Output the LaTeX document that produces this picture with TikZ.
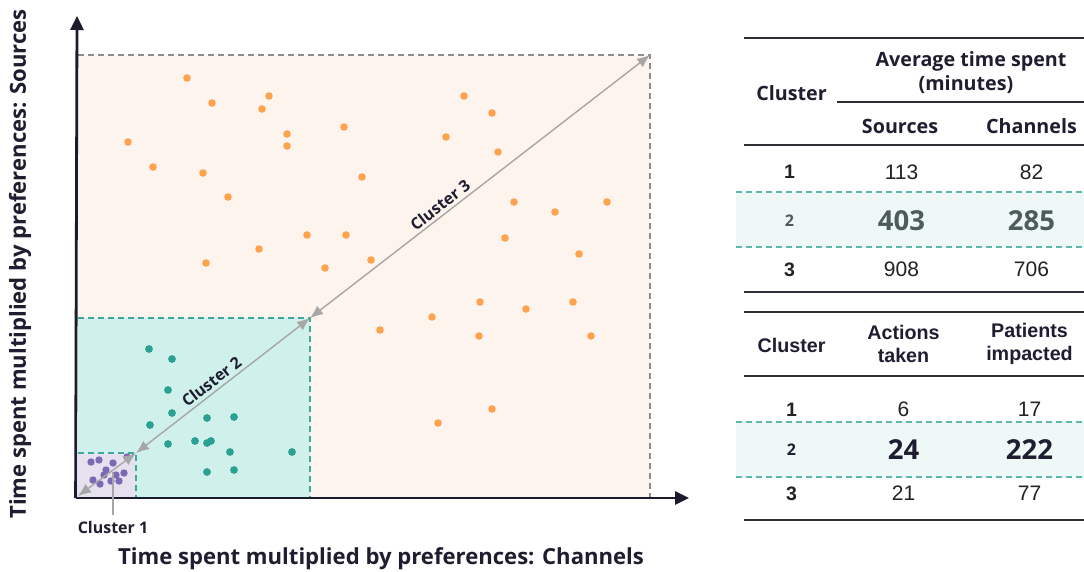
\documentclass[tikz,border=0pt]{standalone}
\usepackage{fontspec}
\setmainfont{Open Sans}
\newfontfamily\arial{Liberation Sans}
\usetikzlibrary{arrows.meta}
\definecolor{cthreefill}{HTML}{FEF4EE}
\definecolor{ctwofill}{HTML}{D0F0EC}
\definecolor{conefill}{HTML}{E5E1EF}
\definecolor{orangedot}{HTML}{FFA24E}
\definecolor{tealdot}{HTML}{2BA194}
\definecolor{purpledot}{HTML}{7D68B5}
\definecolor{tealline}{HTML}{3DA99C}
\definecolor{greyline}{HTML}{8C8C8C}
\definecolor{arrowgrey}{HTML}{A6A6A6}
\definecolor{axisdark}{HTML}{1C1B2E}
\definecolor{textdark}{HTML}{1E1E30}
\definecolor{bandfill}{HTML}{EEF8F6}
\definecolor{bandline}{HTML}{5BB8AD}
\definecolor{rulecol}{HTML}{2E2E36}
\definecolor{greytext}{HTML}{4F5A5A}
\definecolor{valtext}{HTML}{222222}
\tikzset{
  odot/.style={fill=orangedot},
  tdot/.style={fill=tealdot},
  pdot/.style={fill=purpledot},
  c3border/.style={draw=greyline, line width=1.3pt, dash pattern=on 6pt off 4pt},
  c2border/.style={draw=tealline, line width=1.3pt, dash pattern=on 6pt off 4pt},
  axisline/.style={draw=axisdark, line width=2.8pt, -{Triangle[length=14pt,width=13pt]}},
  garrow/.style={draw=arrowgrey, line width=1.4pt, {Latex[length=13pt,width=10.5pt]}-{Latex[length=13pt,width=10.5pt]}},
  gline/.style={draw=arrowgrey, line width=1.4pt},
  clbl/.style={font=\bfseries\fontsize{16}{19}\selectfont, text=textdark, inner sep=0pt},
  axlbl/.style={font=\bfseries\fontsize{22.1}{26}\selectfont, text=textdark, inner sep=0pt},
  hdr/.style={font=\bfseries\fontsize{19.7}{23}\selectfont, text=textdark, inner sep=0pt, align=center},
  ahdr/.style={font=\arial\bfseries\fontsize{19.7}{23}\selectfont, text=textdark, inner sep=0pt, align=center},
  rnum/.style={font=\arial\bfseries\fontsize{19.5}{22}\selectfont, text=valtext, inner sep=0pt},
  rtwo/.style={font=\bfseries\fontsize{16}{19}\selectfont, inner sep=0pt},
  val/.style={font=\arial\fontsize{21}{24}\selectfont, text=valtext, inner sep=0pt},
  bigval/.style={font=\bfseries\fontsize{27.5}{32}\selectfont, inner sep=0pt},
  trule/.style={draw=rulecol, line width=1.8pt},
  band/.style={fill=bandfill},
  bandedge/.style={draw=bandline, line width=1.3pt, dash pattern=on 6pt off 4pt}
}
\begin{document}
\begin{tikzpicture}[x=1pt,y=-1pt]
\useasboundingbox[fill=white] (0,0) rectangle (1084,571);
% ---- regions ----
\fill[cthreefill] (78,55) rectangle (650,498);
\draw[c3border] (78,55) -- (650,55) -- (650,498);
\fill[ctwofill] (78,318) rectangle (310,498);
\draw[c2border] (78,318) -- (310,318) -- (310,498);
\fill[conefill] (78,453) rectangle (136,498);
\draw[c2border] (78,453) -- (136,453) -- (136,498);
% ---- dots ----
\foreach \x/\y in {187/78,212/103,269/96,262/109,287/134,287/146,344/127,128/142,153/167,203/173,228/197,362/177,307/235,346/235,259/249,206/263,325/268,371/260,464/96,492/113,446/137,498/152,514/202,555/212,607/202,505/238,579/254,480/302,526/309,573/302,432/317,380/330,479/336,591/336,438/423,492/409}
  \fill[odot] (\x,\y) circle (3.8pt);
\foreach \x/\y in {149/349,172/359,168/390,172/413,150/425,207/418,234/417,168/444,195/441,207/443,211/441,230/452,292/452,207/472,234/470}
  \fill[tdot] (\x,\y) circle (3.9pt);
\foreach \x/\y in {91/462,99/460,113/463,127/457,106/470,104/475,116/475,124/473,93/480,100/484,111/481,119/481}
  \fill[pdot] (\x,\y) circle (3.7pt);
% ---- axes ----
\coordinate (O) at (77,498);
\coordinate (ytip) at (77,16);
\coordinate (xtip) at (689,498);
\draw[axisline] (75.6,498) -- (ytip);
\draw[axisline] (75.6,498) -- (xtip);
% ---- cluster arrows ----
\coordinate (c0) at (78,496);
\coordinate (c1) at (136,453);
\coordinate (c2) at (310,318);
\coordinate (c3) at (650,55);
\draw[garrow] (c0) -- (c1);
\draw[garrow] (c1) -- node[clbl, sloped, above=3.5pt, pos=0.47] (l2) {Cluster 2} (c2);
\draw[garrow] (c2) -- node[clbl, sloped, above=3pt, pos=0.40] (l3) {Cluster 3} (c3);
\coordinate (p1) at (113,472);
\node[clbl] (l1) at (113,527) {Cluster 1};
\draw[gline] (p1) -- (l1.north |- 0,515);
% ---- axis labels ----
\node[axlbl] (xlab) at (381,559) {Time spent multiplied by preferences: Channels};
\node[axlbl, rotate=90] (ylab) at (20,264) {Time spent multiplied by preferences: Sources};
% ---- table 1 ----
\fill[band] (736,192) rectangle (1084,247);
\draw[bandedge] (736,192) -- (1084,192);
\draw[bandedge] (736,247) -- (1084,247);
\draw[trule] (744,38) -- (1084,38);
\node[hdr] (t1cl) at (791.5,93) {Cluster};
\node[hdr] (t1avg) at (971,61) {Average time spent};
\node[hdr] (t1min) at (966,85) {(minutes)};
\draw[trule] (837,102) -- (1084,102);
\node[hdr] (t1src) at (900,126) {Sources};
\node[hdr] (t1ch) at (1031.5,126) {Channels};
\draw[trule] (744,145) -- (1084,145);
\node[rnum] (t1r1) at (789.5,172) {1};
\node[val] (t1a1) at (901.5,172) {113};
\node[val] (t1b1) at (1031.5,172) {82};
\node[rtwo, text=greytext] (t1r2) at (789.5,221) {2};
\node[bigval, text=greytext] (t1a2) at (901.5,221) {403};
\node[bigval, text=greytext] (t1b2) at (1031.5,221) {285};
\node[rnum] (t1r3) at (789.5,269.5) {3};
\node[val] (t1a3) at (901.5,269.5) {908};
\node[val] (t1b3) at (1031.5,269.5) {706};
\draw[trule] (744,292) -- (1084,292);
% ---- table 2 ----
\fill[band] (736,422) rectangle (1084,477);
\draw[bandedge] (736,422) -- (1084,422);
\draw[bandedge] (736,477) -- (1084,477);
\draw[trule] (744,312) -- (1084,312);
\node[ahdr] (t2cl) at (791.5,345) {Cluster};
\node[ahdr] (t2act) at (903.5,344) {Actions\\taken};
\node[ahdr] (t2pat) at (1029.5,344) {Patients\\impacted};
\draw[trule] (744,376) -- (1084,376);
\node[rnum] (t2r1) at (791.5,409.5) {1};
\node[val] (t2a1) at (903.5,409.5) {6};
\node[val] (t2b1) at (1029.5,409.5) {17};
\node[rtwo, text=textdark] (t2r2) at (791.5,450) {2};
\node[bigval, text=textdark] (t2a2) at (903.5,450) {24};
\node[bigval, text=textdark] (t2b2) at (1029.5,450) {222};
\node[rnum] (t2r3) at (791.5,493.5) {3};
\node[val] (t2a3) at (903.5,493.5) {21};
\node[val] (t2b3) at (1029.5,493.5) {77};
\draw[trule] (744,520) -- (1084,520);
\end{tikzpicture}
\end{document}
